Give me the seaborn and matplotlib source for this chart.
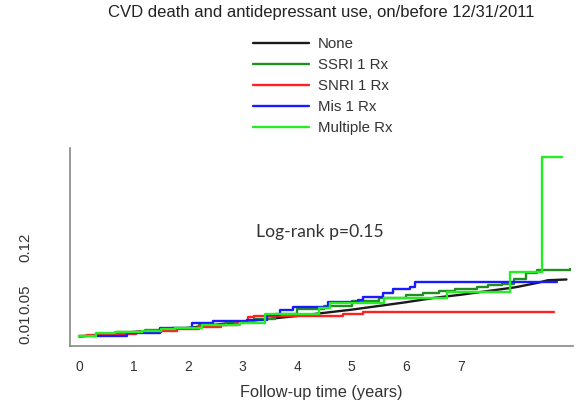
import matplotlib
matplotlib.use("Agg")
import matplotlib.pyplot as plt
import seaborn as sns
import pandas as pd

# ---- data ----
none_t = [0, 1, 2, 3, 4, 5, 6, 6.53, 7, 8, 8.41, 8.6, 8.94]
none_y = [0, 0.006, 0.0115, 0.020, 0.0275, 0.036, 0.046, 0.052, 0.056, 0.066, 0.072, 0.0755, 0.0765]

ssri_t = [0, 0.3, 0.7, 1.2, 1.7, 2.2, 2.7, 3.2, 3.6, 4.0, 4.5, 5.0, 5.5, 6.0, 6.3, 6.6, 6.9, 7.3, 7.5, 7.75, 7.98, 8.2, 8.4, 9.0]
ssri_y = [0, 0.003, 0.006, 0.009, 0.012, 0.016, 0.019, 0.023, 0.030, 0.037, 0.041, 0.047, 0.052, 0.055, 0.058, 0.061, 0.064, 0.066, 0.069, 0.071, 0.077, 0.085, 0.0895, 0.0905]

snri_t = [0, 0.15, 0.6, 1.05, 1.5, 1.8, 2.2, 2.6, 2.9, 3.1, 3.2, 4.84, 5.2, 8.72]
snri_y = [0, 0.002, 0.003, 0.006, 0.008, 0.010, 0.013, 0.016, 0.019, 0.026, 0.0275, 0.030, 0.0333, 0.0333]

mis_t = [0.23, 0.43, 0.87, 1.48, 2.06, 2.45, 3.07, 3.44, 3.68, 3.92, 4.56, 5.11, 5.2, 5.57, 5.75, 6.06, 6.16, 8.76]
mis_y = [0, 0.001, 0.0047, 0.011, 0.018, 0.0208, 0.0221, 0.0289, 0.0356, 0.040, 0.0459, 0.049, 0.0526, 0.058, 0.0634, 0.0669, 0.0725, 0.0725]

mult_t = [0, 0.3, 0.65, 1.15, 1.5, 1.75, 2.25, 2.95, 3.4, 4.4, 4.6, 5.6, 6.75, 7.9, 8.5, 8.85]
mult_y = [0, 0.004, 0.0065, 0.008, 0.010, 0.012, 0.0155, 0.018, 0.030, 0.038, 0.045, 0.0517, 0.060, 0.087, 0.241, 0.241]

groups = ["None", "SSRI 1 Rx", "SNRI 1 Rx", "Mis 1 Rx", "Multiple Rx"]
colors = ["#1a1a1a", "#1f8f1f", "#ff2020", "#1a1aff", "#22ee22"]

yticks = [0.01, 0.05, 0.12]
ytick_labels = ["0.01", "0.05", "0.12"]
xticks = [0, 1, 2, 3, 4, 5, 6, 7]

frames = []
for g, t, y in [("None", none_t, none_y), ("SSRI 1 Rx", ssri_t, ssri_y),
                ("SNRI 1 Rx", snri_t, snri_y), ("Mis 1 Rx", mis_t, mis_y),
                ("Multiple Rx", mult_t, mult_y)]:
    frames.append(pd.DataFrame({"time": t, "cuminc": y, "group": g}))
df = pd.concat(frames, ignore_index=True)

# ---- figure ----
sns.set_style("white")
plt.rcParams["font.family"] = ["Liberation Sans", "DejaVu Sans"]
fig = plt.figure(figsize=(5.86, 4.12), dpi=100)
ax = fig.add_axes([70 / 586, 1 - 346 / 412, (573 - 70) / 586, (346 - 148) / 412])

pal = dict(zip(groups, colors))
handles = []
for g in groups:
    sub = df[df["group"] == g]
    ds = "default" if g == "None" else "steps-post"
    sns.lineplot(data=sub, x="time", y="cuminc", color=pal[g], ax=ax,
                 estimator=None, sort=True, drawstyle=ds, linewidth=1.7,
                 legend=False)
    handles.append(plt.Line2D([], [], color=pal[g], linewidth=1.7, label=g))

ax.set_xlim(-0.17, 9.06)
ax.set_ylim(-0.0128, 0.253)
ax.set_xticks(xticks)
ax.set_xticklabels([str(x) for x in xticks], fontsize=10)
ax.set_yticks(yticks)
ax.set_yticklabels(ytick_labels, fontsize=10.8, rotation=90, va="center")
ax.tick_params(axis="both", direction="out", length=5, width=0.9, color="#888888",
               labelcolor="#333333")
ax.tick_params(axis="y", pad=22)
ax.tick_params(axis="x", pad=5)
ax.set_xlabel("Follow-up time (years)", fontsize=11.8, color="#333333", labelpad=8)
ax.set_ylabel("")
for s in ["top", "right"]:
    ax.spines[s].set_visible(False)
for s in ["left", "bottom"]:
    ax.spines[s].set_color("#888888")
    ax.spines[s].set_linewidth(1.2)

ax.text(4.41, 0.140, "Log-rank p=0.15", fontsize=12.6, color="#333333",
        ha="center", va="center", family=["Lato", "DejaVu Sans"])

fig.text(321.5 / 586, 1 - 13 / 412, "CVD death and antidepressant use, on/before 12/31/2011",
         ha="center", va="center", fontsize=12, color="#222222")

fig.legend(handles=handles, loc="upper left", bbox_to_anchor=(253 / 586, 1 - 37 / 412),
           frameon=False, fontsize=10.8, handlelength=3.7, handletextpad=0.6,
           labelspacing=0.47, borderpad=0, borderaxespad=0, labelcolor="#333333")

fig.savefig("out.png", dpi=100)
